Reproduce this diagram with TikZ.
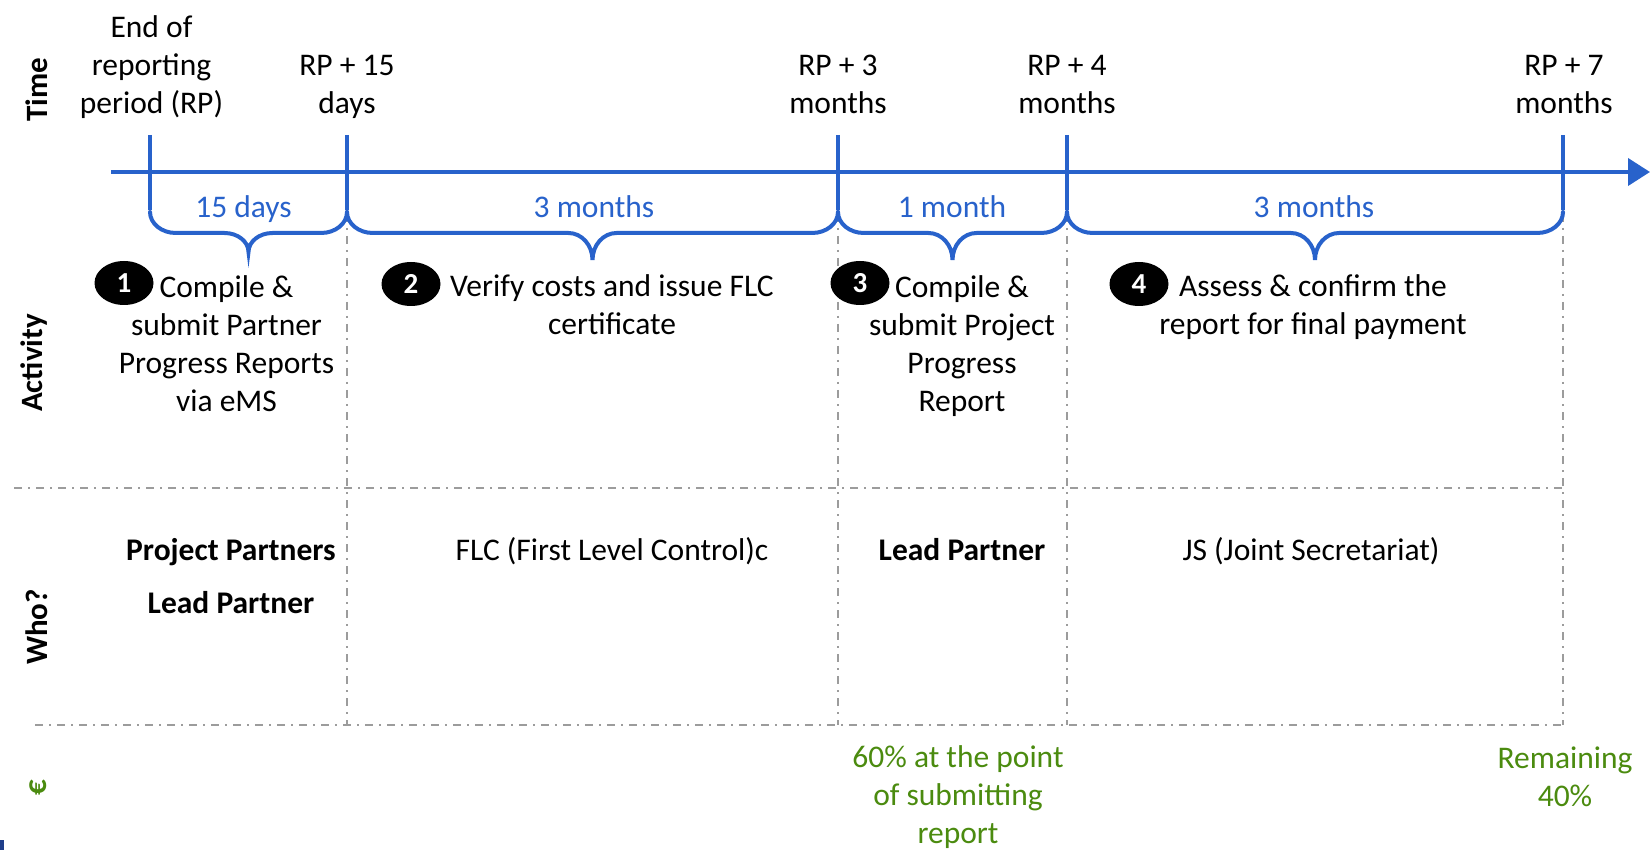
\documentclass[tikz,border=0pt]{standalone}
\usepackage{fontspec}
\setmainfont{Carlito}
\usetikzlibrary{arrows.meta,shapes.geometric}
\definecolor{tlblue}{HTML}{2862CB}
\definecolor{eurgreen}{HTML}{4B8B0F}
\definecolor{gridgray}{HTML}{9C9C9C}
\definecolor{markblue}{HTML}{1F3E8A}
\newcommand\tlbrace[3]{%
  \pgfmathsetmacro\bM{(#1+#2)/2}%
  \pgfmathsetmacro\bD{#3-233}%
  \draw[bracestyle] (#1,212) .. controls (#1,223.6) and ({#1+11.6},233) .. ({#1+26},233)
    -- ({\bM-24},233) .. controls ({\bM-10.8},233) and (\bM,{#3-0.552*\bD}) .. (\bM,#3)
    .. controls (\bM,{#3-0.552*\bD}) and ({\bM+10.8},233) .. ({\bM+24},233)
    -- ({#2-26},233) .. controls ({#2-11.6},233) and (#2,223.6) .. (#2,212);}
\begin{document}
\begin{tikzpicture}[x=1pt,y=-1pt,
  txt/.style={font=\fontsize{31.5}{38}\selectfont, align=center, inner sep=0pt, anchor=base},
  boldtxt/.style={txt, font=\fontsize{31.5}{38}\selectfont\bfseries},
  bluetxt/.style={txt, text=tlblue},
  greentxt/.style={txt, text=eurgreen},
  rowlabel/.style={font=\fontsize{31}{38}\selectfont\bfseries, inner sep=0pt, anchor=base, rotate=90},
  numbadge/.style={ellipse, fill=black, minimum width=59pt, minimum height=44pt, inner sep=0pt,
    text=white, font=\fontsize{29}{30}\selectfont\bfseries},
  timeline/.style={draw=tlblue, line width=4pt},
  tickline/.style={draw=tlblue, line width=4pt},
  bracestyle/.style={draw=tlblue, line width=4pt, line cap=round},
  gridline/.style={draw=gridgray, line width=2pt, dash pattern=on 8pt off 6pt on 2pt off 6pt}
]
\useasboundingbox (0,0) rectangle (1650,850);

% --- grid lines (dash-dot) ---
\coordinate (h1l) at (14,488);  \coordinate (h1r) at (1565,488);
\coordinate (h2l) at (35,725);  \coordinate (h2r) at (1565,725);
\draw[gridline] (h1l) -- (h1r);
\draw[gridline] (h2l) -- (h2r);
\coordinate (g2t) at (347,214);  \coordinate (g2b) at (347,725);
\coordinate (g3t) at (838,214);  \coordinate (g3b) at (838,725);
\coordinate (g4t) at (1067,214); \coordinate (g4b) at (1067,725);
\coordinate (g5t) at (1563,214); \coordinate (g5b) at (1563,725);
\draw[gridline] (g2t) -- (g2b);
\draw[gridline] (g3t) -- (g3b);
\draw[gridline] (g4t) -- (g4b);
\draw[gridline] (g5t) -- (g5b);

% --- timeline ---
\coordinate (tlstart) at (111,172);
\coordinate (tlend) at (1650,172);
\draw[timeline, -{Triangle[length=22pt,width=27pt]}] (tlstart) -- (tlend);
\foreach \i/\x in {1/150,2/347,3/838,4/1067,5/1563}{
  \coordinate (t\i top) at (\x,135);
  \coordinate (t\i bot) at (\x,210);
  \draw[tickline] (t\i top) -- (t\i bot);
}

% --- braces ---
\tlbrace{150}{347}{252}
\tlbrace{347}{838}{260}
\tlbrace{838}{1067}{260}
\tlbrace{1067}{1563}{260}

% --- time labels (anchor = baseline of last line) ---
\node[txt] (tl1) at (151.5,114) {End of\\reporting\\period (RP)};
\node[txt] (tl2) at (347,114) {RP + 15\\days};
\node[txt] (tl3) at (838,114) {RP + 3\\months};
\node[txt] (tl4) at (1067,114) {RP + 4\\months};
\node[txt] (tl5) at (1564,114) {RP + 7\\months};

% --- duration labels ---
\node[bluetxt] (d1) at (243.5,218) {15 days};
\node[bluetxt] (d2) at (594,218) {3 months};
\node[bluetxt] (d3) at (952,218) {1 month};
\node[bluetxt] (d4) at (1314,218) {3 months};

% --- row labels ---
\node[rowlabel] (rTime) at (47,90) {Time};
\node[rowlabel] (rAct) at (42,363) {Activity};
\node[rowlabel] (rWho) at (47,627) {Who?};
\node[rowlabel, text=eurgreen] (rEur) at (46,788) {€};

% --- activities ---
\node[txt] (a1) at (226.5,411) {Compile \&\\submit Partner\\Progress Reports\\via eMS};
\node[txt] (a2) at (612,335) {Verify costs and issue FLC\\certificate};
\node[txt] (a3) at (962,411) {Compile \&\\submit Project\\Progress\\Report};
\node[txt] (a4) at (1313,335) {Assess \& confirm the\\report for final payment};
\node[numbadge] (n1) at (124,283) {\raisebox{-1.5pt}{1}};
\node[numbadge] (n2) at (411,284) {\raisebox{-1.5pt}{2}};
\node[numbadge] (n3) at (860,283) {\raisebox{-1.5pt}{3}};
\node[numbadge] (n4) at (1139,284) {\raisebox{-1.5pt}{4}};

% --- who ---
\node[boldtxt] (w1) at (231,613) {Project Partners\\[15pt]Lead Partner};
\node[txt] (w2) at (612,560) {FLC (First Level Control)c};
\node[boldtxt] (w3) at (962,560) {Lead Partner};
\node[txt] (w4) at (1311,560) {JS (Joint Secretariat)};

% --- payments ---
\node[greentxt] (p1) at (958,843) {60\% at the point\\of submitting\\report};
\node[greentxt] (p2) at (1565,806) {Remaining\\40\%};

% --- small mark at bottom-left ---
\fill[markblue] (0,840) rectangle (4,850);
\end{tikzpicture}
\end{document}
